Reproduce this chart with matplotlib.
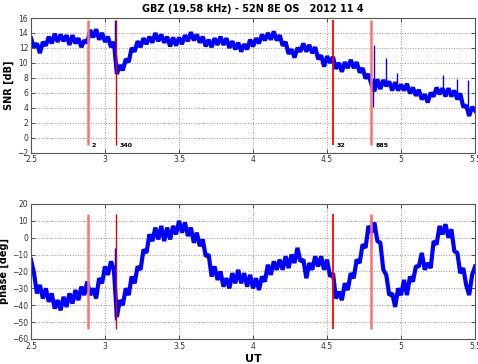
import numpy as np
import matplotlib
matplotlib.use("Agg")
import matplotlib.pyplot as plt

ut = np.linspace(2.5, 5.5, 151)

snr_db = [
    13.3, 12.1, 12.6, 11.3, 12.8, 12.3, 13.5, 12.6, 13.9, 12.8,
    13.8, 12.9, 13.7, 12.4, 13.7, 12.6, 13.3, 12.1, 13.0, 12.7,
    14.4, 13.4, 14.5, 13.1, 14.0, 12.8, 13.5, 12.1, 12.8, 8.5,
    9.7, 9.0, 10.5, 10.1, 12.0, 11.5, 12.9, 12.1, 13.3, 12.5,
    13.5, 12.7, 14.0, 12.9, 13.8, 12.7, 13.5, 12.2, 13.4, 12.3,
    13.4, 12.5, 13.7, 12.9, 14.1, 13.0, 13.8, 12.7, 13.5, 12.2,
    13.1, 12.1, 13.3, 12.4, 13.5, 12.4, 13.3, 12.0, 12.9, 11.8,
    12.7, 11.5, 12.5, 11.8, 13.1, 12.2, 13.3, 12.6, 13.8, 13.0,
    14.0, 13.1, 14.2, 13.0, 13.7, 12.3, 12.8, 11.2, 11.8, 10.7,
    12.0, 11.5, 12.6, 11.5, 12.4, 11.3, 12.1, 10.5, 11.0, 9.5,
    10.9, 10.0, 10.8, 9.2, 10.0, 8.8, 10.1, 9.3, 10.4, 9.3,
    10.1, 8.7, 9.3, 7.9, 8.5, 7.1, 6.2, 7.8, 6.5, 7.7,
    6.9, 7.5, 6.3, 7.4, 6.3, 7.1, 6.3, 7.2, 5.9, 6.7,
    5.6, 6.4, 5.1, 5.8, 4.7, 6.0, 5.5, 6.7, 5.8, 6.6,
    5.5, 6.6, 5.5, 6.3, 5.1, 5.9, 4.1, 4.3, 2.9, 4.1,
    3.6,
]

phase_deg = [
    -13, -21, -33, -28, -36, -30, -38, -33, -42, -37,
    -43, -35, -41, -33, -39, -31, -37, -29, -34, -26,
    -34, -30, -36, -24, -27, -17, -22, -14, -19, -47,
    -37, -40, -30, -34, -23, -27, -17, -19, -7, -9,
    2, -2, 6, -1, 7, -2, 6, -1, 7, 2,
    10, 3, 9, 1, 6, -3, 3, -5, -1, -11,
    -10, -23, -17, -25, -20, -29, -24, -30, -21, -27,
    -19, -27, -21, -29, -22, -30, -24, -31, -23, -26,
    -16, -22, -14, -19, -13, -19, -11, -18, -10, -15,
    -6, -14, -13, -24, -15, -19, -11, -17, -11, -19,
    -13, -23, -21, -36, -32, -37, -27, -31, -21, -24,
    -13, -15, -4, -6, 7, 3, 9, -2, -3, -19,
    -22, -34, -33, -41, -30, -34, -25, -34, -23, -26,
    -17, -17, -9, -19, -15, -18, -2, -4, 7, 2,
    8, 0, 5, -8, -9, -21, -18, -28, -34, -22,
    -17,
]

# short glitches in the record (UT, low, high)
snr_spike_ut = [3.07, 4.81, 4.82, 4.897, 4.97, 5.28, 5.38, 5.45]
snr_spike_lo = [12.4, 4.1, 7.0, 7.0, 6.8, 6.0, 5.8, 3.5]
snr_spike_hi = [15.7, 8.0, 12.4, 10.6, 8.6, 8.4, 7.9, 7.7]
phase_spike_ut = [3.07, 4.80]
phase_spike_lo = [-49, -4]
phase_spike_hi = [-6, 13.5]

# transmitter events: time and label
event_ut = [2.886, 3.071, 4.54, 4.80]
event_labels = ["2", "340", "32", "885"]
event_colors = ["#ff7070", "#e00000", "#ff0000", "#ff7070"]
event_widths = [1.8, 1.0, 1.3, 1.8]

xticks = [2.5, 3, 3.5, 4, 4.5, 5, 5.5]
xticklabels = ["2.5", "3", "3.5", "4", "4.5", "5", "5.5"]

fig = plt.figure(figsize=(4.78, 3.64), dpi=100)
ax1 = fig.add_axes([0.0649, 0.581, 0.929, 0.3695])
ax2 = fig.add_axes([0.0649, 0.0687, 0.929, 0.371])


def style(ax, ylim, yticks):
    ax.set_xlim(2.5, 5.5)
    ax.set_ylim(*ylim)
    ax.set_xticks(xticks)
    ax.set_xticklabels(xticklabels)
    ax.set_yticks(yticks)
    ax.tick_params(direction="in", length=3, width=0.6, labelsize=5.5,
                   top=True, right=True, colors="#333333", pad=2)
    ax.grid(True, linestyle=":", color="#999999", linewidth=0.7)
    for s in ax.spines.values():
        s.set_color("#555555")
        s.set_linewidth(0.8)


# ── SNR ──
ax1.plot(ut, snr_db, color="#0000ff", linewidth=3.0, solid_joinstyle="bevel")
ax1.vlines(snr_spike_ut, snr_spike_lo, snr_spike_hi, color="#0000ff", linewidth=1.0)
for x, lab, c, w in zip(event_ut, event_labels, event_colors, event_widths):
    ax1.vlines(x, -1, 15.7, color=c, linewidth=w)
    ax1.text(x + 0.025, -1, lab, fontsize=4.5, fontweight="bold", va="center", ha="left")
style(ax1, (-2, 16), np.arange(-2, 17, 2))
ax1.set_ylabel("SNR [dB]", fontsize=7, fontweight="bold", labelpad=2)
ax1.set_title("GBZ (19.58 kHz) - 52N 8E OS   2012 11 4", fontsize=7,
              fontweight="bold", pad=4)

# ── phase ──
ax2.plot(ut, phase_deg, color="#0000ff", linewidth=3.0, solid_joinstyle="bevel")
ax2.vlines(phase_spike_ut, phase_spike_lo, phase_spike_hi, color="#0000ff", linewidth=1.0)
for x, c, w in zip(event_ut, event_colors, event_widths):
    ax2.vlines(x, -54, 14, color=c, linewidth=w)
style(ax2, (-60, 20), np.arange(-60, 21, 10))
ax2.set_ylabel("phase [deg]", fontsize=7, fontweight="bold", labelpad=2)
ax2.set_xlabel("UT", fontsize=8, fontweight="bold", labelpad=2)

assert len(snr_db) == len(ut) and len(phase_deg) == len(ut)
fig.savefig("out.png", dpi=100)
